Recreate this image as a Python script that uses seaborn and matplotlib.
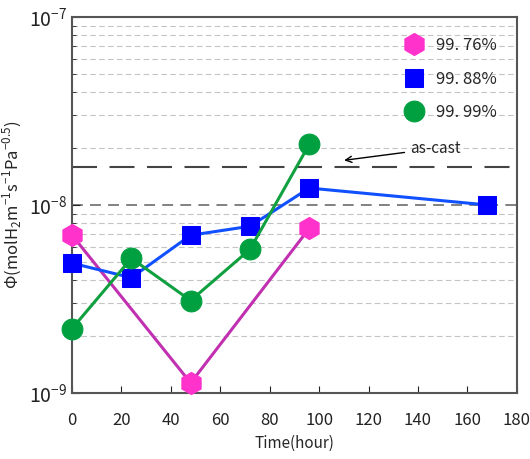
import numpy as np
import pandas as pd
import seaborn as sns
import matplotlib.pyplot as plt
from matplotlib.ticker import FixedLocator, NullFormatter

# data
hours_776 = [0, 48, 96]
phi_776 = [6.9e-9, 1.13e-9, 7.5e-9]
hours_788 = [0, 24, 48, 72, 96, 168]
phi_788 = [4.9e-9, 4.1e-9, 6.9e-9, 7.7e-9, 1.23e-8, 1.0e-8]
hours_799 = [0, 24, 48, 72, 96]
phi_799 = [2.2e-9, 5.2e-9, 3.1e-9, 5.8e-9, 2.1e-8]
as_cast = 1.6e-8

labels = ["99. 76%", "99. 88%", "99. 99%"]
x_ticks = [0, 20, 40, 60, 80, 100, 120, 140, 160, 180]
y_ticks = [1e-9, 1e-8, 1e-7]
y_minor = [m * d for d in (1e-9, 1e-8) for m in range(2, 10)]

sns.set_style("ticks")
plt.rcParams['font.family'] = ['Noto Sans CJK JP', 'DejaVu Sans']
plt.rcParams['mathtext.fontset'] = 'custom'
plt.rcParams['mathtext.rm'] = 'Noto Sans CJK JP'

fig = plt.figure(figsize=(5.3, 4.59), dpi=100)
ax = fig.add_axes([0.136, 0.144, 0.839, 0.819])
ax.set_yscale('log')

# grid lines
for v in y_minor:
    ax.axhline(v, color='#c4c4c4', lw=0.8, ls=(0, (5, 3)), zorder=0)
ax.axhline(1e-8, color='#777777', lw=1.3, ls=(0, (6, 4)), zorder=0)
ax.axhline(as_cast, color='#444444', lw=1.5, ls=(0, (12, 6)), zorder=1)

series = [
    (hours_776, phi_776, labels[0], 'h', '#ff33cc', '#c030b0', 16),
    (hours_788, phi_788, labels[1], 's', '#0000ff', '#1050ff', 13),
    (hours_799, phi_799, labels[2], 'o', '#00a040', '#10a040', 15),
]
for hx, hy, lab, mk, mc, lc, ms in series:
    df = pd.DataFrame({'hour': hx, 'phi': hy})
    sns.lineplot(data=df, x='hour', y='phi', ax=ax, color=lc, lw=2.2,
                 marker=mk, markersize=ms, markerfacecolor=mc,
                 markeredgecolor=mc, label=lab, zorder=3, clip_on=False)

ax.set_xlim(0, 180)
ax.set_ylim(1e-9, 1e-7)
ax.set_xticks(x_ticks)
ax.yaxis.set_major_locator(FixedLocator(y_ticks))
ax.yaxis.set_minor_locator(FixedLocator(y_minor))
ax.yaxis.set_minor_formatter(NullFormatter())
ax.tick_params(direction='in', which='both', labelsize=12, colors='#222222')
ax.tick_params(axis='y', which='major', length=6, labelsize=14)
ax.tick_params(axis='y', which='minor', length=3)
ax.tick_params(axis='x', length=5, pad=14)
for sp in ax.spines.values():
    sp.set_color('#555555')
    sp.set_linewidth(1.5)

ax.set_xlabel('Time(hour)', fontsize=11, labelpad=4)
ax.set_ylabel(r'$\Phi$(molH$_2$m$^{-1}$s$^{-1}$Pa$^{-0.5}$)', fontsize=12)

ax.annotate('as-cast', xy=(109, 1.72e-8), xytext=(137, 2.0e-8),
            fontsize=11, va='center', ha='left',
            arrowprops=dict(arrowstyle='->', color='black', lw=1))

leg = ax.legend(loc='upper right', frameon=False, fontsize=12,
                handlelength=1.0, borderaxespad=0.8, labelspacing=1.0)
for h in leg.legend_handles:
    h.set_linestyle('none')

fig.savefig('out.png', dpi=100)
